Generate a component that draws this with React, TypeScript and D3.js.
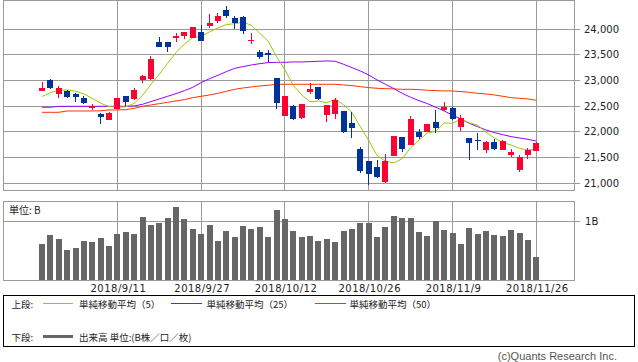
import React from "react";
import * as d3 from "d3";

// ---- data ----
const dates = [
  "2018/8/29", "2018/8/30", "2018/8/31", "2018/9/3", "2018/9/4", "2018/9/5", "2018/9/6", "2018/9/7", "2018/9/10", "2018/9/11",
  "2018/9/12", "2018/9/13", "2018/9/14", "2018/9/18", "2018/9/19", "2018/9/20", "2018/9/21", "2018/9/25", "2018/9/26", "2018/9/27",
  "2018/9/28", "2018/10/1", "2018/10/2", "2018/10/3", "2018/10/4", "2018/10/5", "2018/10/9", "2018/10/10", "2018/10/11", "2018/10/12",
  "2018/10/15", "2018/10/16", "2018/10/17", "2018/10/18", "2018/10/19", "2018/10/22", "2018/10/23", "2018/10/24", "2018/10/25", "2018/10/26",
  "2018/10/29", "2018/10/30", "2018/10/31", "2018/11/1", "2018/11/2", "2018/11/5", "2018/11/6", "2018/11/7", "2018/11/8", "2018/11/9",
  "2018/11/12", "2018/11/13", "2018/11/14", "2018/11/15", "2018/11/16", "2018/11/19", "2018/11/20", "2018/11/21", "2018/11/22", "2018/11/26",
];

const openP = [
  22805, 23013, 22734, 22805, 22740, 22669, 22461, 22351, 22234, 22448,
  22701, 22643, 23013, 23033, 23753, 23753, 23838, 23877, 23838, 23948,
  24072, 24169, 24377, 24221, 24240, 23785, 23559, 23533, 23052, 22318,
  22507, 22279, 22779, 22870, 22331, 22351, 22409, 22175, 21669, 21435,
  21318, 21032, 21532, 21903, 21740, 21994, 22000, 22195, 22429, 22474,
  22104, 21883, 21844, 21656, 21805, 21656, 21552, 21260, 21558, 21636,
];
const highP = [
  22981, 23032, 22896, 22810, 22753, 22701, 22552, 22377, 22390, 22665,
  22705, 22857, 23117, 23481, 23857, 23756, 23922, 23945, 24042, 24085,
  24299, 24312, 24455, 24260, 24260, 23922, 23598, 23598, 23055, 22705,
  22520, 22550, 22948, 22873, 22525, 22662, 22412, 22390, 21714, 21438,
  21448, 21571, 21925, 21906, 22312, 22059, 22159, 22429, 22585, 22494,
  22325, 21886, 21987, 21831, 21857, 21844, 21675, 21546, 21688, 21795,
];
const lowP = [
  22800, 22831, 22669, 22669, 22591, 22552, 22422, 22156, 22230, 22440,
  22507, 22624, 22961, 23020, 23650, 23565, 23760, 23805, 23835, 23780,
  24020, 24117, 24215, 24013, 23909, 23714, 23429, 23364, 22455, 22315,
  22234, 22260, 22740, 22630, 22195, 22253, 21987, 21890, 21195, 20968,
  21097, 21013, 21525, 21617, 21737, 21857, 21997, 21987, 22409, 22234,
  22026, 21455, 21649, 21597, 21649, 21643, 21519, 21227, 21467, 21633,
];
const closeP = [
  22857, 22857, 22851, 22688, 22688, 22572, 22507, 22299, 22377, 22662,
  22591, 22818, 23091, 23422, 23663, 23663, 23877, 23942, 24039, 23780,
  24124, 24260, 24266, 24117, 23974, 23792, 23468, 23494, 22572, 22701,
  22260, 22546, 22838, 22636, 22520, 22623, 22000, 22085, 21247, 21175,
  21130, 21435, 21922, 21675, 22253, 21896, 22156, 22071, 22487, 22253,
  22279, 21792, 21825, 21812, 21669, 21818, 21604, 21520, 21649, 21792,
];

// volume, unit: B (billion shares)
const volumeB = [
  0.613, 0.767, 0.698, 0.511, 0.545, 0.664, 0.647, 0.715, 0.579, 0.784,
  0.818, 0.784, 1.073, 0.937, 0.971, 1.056, 1.244, 1.039, 0.869, 0.784,
  0.937, 0.664, 0.835, 0.733, 0.920, 0.869, 0.903, 0.733, 1.193, 1.039,
  0.835, 0.733, 0.750, 0.664, 0.698, 0.647, 0.835, 0.869, 0.971, 0.971,
  0.733, 0.903, 1.090, 1.056, 1.056, 0.818, 0.750, 1.005, 0.852, 0.801,
  0.613, 0.886, 0.784, 0.835, 0.767, 0.750, 0.852, 0.801, 0.681, 0.392,
];

const ma5 = [
  22690, 22765, 22815, 22818, 22795, 22740, 22655, 22560, 22495, 22482,
  22490, 22556, 22712, 22925, 23125, 23340, 23548, 23715, 23838, 23862,
  23952, 24027, 24093, 24108, 24140, 24077, 23921, 23769, 23465, 23208,
  22906, 22722, 22590, 22603, 22570, 22639, 22531, 22381, 22103, 21833,
  21540, 21430, 21396, 21479, 21691, 21841, 21979, 22012, 22172, 22173,
  22247, 22180, 22132, 21996, 21882, 21792, 21747, 21679, 21647, 21674,
];
const ma25 = [
  22481, 22481, 22500, 22500, 22500, 22500, 22500, 22500, 22500, 22500,
  22500, 22507, 22539, 22591, 22643, 22695, 22747, 22805, 22870, 22961,
  23039, 23104, 23175, 23240, 23273, 23305, 23331, 23351, 23357, 23357,
  23364, 23364, 23370, 23377, 23383, 23377, 23318, 23253, 23188, 23110,
  23013, 22929, 22844, 22753, 22675, 22610, 22552, 22481, 22409, 22331,
  22253, 22169, 22104, 22039, 21987, 21948, 21909, 21883, 21857, 21822,
];
const ma50 = [
  22383, 22383, 22383, 22409, 22409, 22409, 22409, 22412, 22429, 22429,
  22435, 22461, 22500, 22526, 22552, 22578, 22604, 22630, 22669, 22695,
  22721, 22753, 22792, 22831, 22857, 22877, 22896, 22909, 22929, 22929,
  22929, 22929, 22929, 22929, 22929, 22929, 22916, 22903, 22883, 22864,
  22851, 22844, 22838, 22831, 22831, 22825, 22812, 22805, 22799, 22799,
  22786, 22773, 22753, 22740, 22721, 22695, 22669, 22656, 22643, 22617,
];

const priceTicks = [21000, 21500, 22000, 22500, 23000, 23500, 24000];
const volumeTicks = [1];
const dateTicks = ["2018/9/11", "2018/9/27", "2018/10/12", "2018/10/26", "2018/11/9", "2018/11/26"];

const UP = "#ff0033";
const DOWN = "#003399";
const GRID = "#9a9a9a";
const C_MA5 = "#99cc00";
const C_MA25 = "#9900ff";
const C_MA50 = "#ff3300";
const VOL = "#666666";
const NUMFONT = "'DejaVu Sans', sans-serif";
const JPFONT = "'Noto Sans CJK JP', sans-serif";

const px = (v: number) => Math.floor(v) + 0.5;

export default function App() {
  const W = 638;
  const H = 362;
  const plotL = 3.5;
  const plotR = 574.5;
  const mainTop = 0.5;
  const mainBottom = 190.5;
  const volTop = 201.5;
  const volBottom = 280.5;

  const x = d3.scaleLinear().domain([0, dates.length - 1]).range([42, 536.3]);
  const y = d3.scaleLinear().domain([21000, 24000]).range([183.3, 29.3]);
  const yv = d3.scaleLinear().domain([0, 1]).range([280.5, 221.3]);

  const maLine = d3
    .line<number>()
    .x((_, i) => x(i))
    .y((d) => y(d));

  const bodyW = 6;
  const tickIdx = dateTicks.map((t) => dates.indexOf(t));

  return (
    <svg
      width={W}
      height={H}
      viewBox={`0 0 ${W} ${H}`}
      style={{ position: "absolute", left: 0, top: 0, display: "block", background: "#fff" }}
    >
      <rect x={0} y={0} width={W} height={H} fill="#fff" />

      {/* ---------- main price panel ---------- */}
      <g shapeRendering="crispEdges">
        {priceTicks.map((t) => (
          <g key={t}>
            <line x1={plotL} x2={plotR} y1={px(y(t))} y2={px(y(t))} stroke={GRID} />
            <line x1={plotR} x2={580} y1={px(y(t))} y2={px(y(t))} stroke={GRID} />
          </g>
        ))}
        {tickIdx.map((i) => (
          <line key={i} x1={px(x(i))} x2={px(x(i))} y1={mainTop} y2={mainBottom} stroke={GRID} />
        ))}
        <rect x={plotL} y={mainTop} width={plotR - plotL} height={mainBottom - mainTop} fill="none" stroke={GRID} />
      </g>

      {priceTicks.map((t) => (
        <text
          key={t}
          x={584}
          y={y(t)}
          dominantBaseline="central"
          fontFamily={NUMFONT}
          fontSize={10}
          fill="#222"
        >
          {d3.format(",")(t)}
        </text>
      ))}

      {/* moving averages */}
      <path d={maLine(ma50) || ""} fill="none" stroke={C_MA50} strokeWidth={1} />
      <path d={maLine(ma25) || ""} fill="none" stroke={C_MA25} strokeWidth={1} />
      <path d={maLine(ma5) || ""} fill="none" stroke={C_MA5} strokeWidth={1} />

      {/* candles */}
      <g shapeRendering="crispEdges">
        {dates.map((d, i) => {
          const o = openP[i];
          const c = closeP[i];
          const col = c >= o ? UP : DOWN;
          const top = y(Math.max(o, c));
          const bot = y(Math.min(o, c));
          const cx = x(i);
          return (
            <g key={d}>
              <line x1={px(cx)} x2={px(cx)} y1={y(highP[i])} y2={y(lowP[i])} stroke={col} />
              <rect
                x={Math.round(cx - bodyW / 2)}
                y={top}
                width={bodyW}
                height={Math.max(1, bot - top)}
                fill={col}
              />
            </g>
          );
        })}
      </g>

      {/* ---------- volume panel ---------- */}
      <g shapeRendering="crispEdges">
        {volumeTicks.map((t) => (
          <g key={t}>
            <line x1={plotL} x2={plotR} y1={px(yv(t))} y2={px(yv(t))} stroke={GRID} />
            <line x1={plotR} x2={580} y1={px(yv(t))} y2={px(yv(t))} stroke={GRID} />
          </g>
        ))}
        {tickIdx.map((i) => (
          <line key={i} x1={px(x(i))} x2={px(x(i))} y1={volTop} y2={volBottom} stroke={GRID} />
        ))}
        {dates.map((d, i) => (
          <rect
            key={d}
            x={Math.round(x(i) - bodyW / 2)}
            y={yv(volumeB[i])}
            width={bodyW}
            height={yv(0) - yv(volumeB[i])}
            fill={VOL}
          />
        ))}
        <rect x={plotL} y={volTop} width={plotR - plotL} height={volBottom - volTop} fill="none" stroke={GRID} />
      </g>
      {volumeTicks.map((t) => (
        <text key={t} x={585} y={yv(t)} dominantBaseline="central" fontFamily={NUMFONT} fontSize={10} fill="#222">
          {t}B
        </text>
      ))}
      <text x={9} y={209.5} dominantBaseline="central" fontFamily={JPFONT} fontSize={10} fill="#222">
        単位: B
      </text>

      {/* date labels */}
      {tickIdx.map((i, k) => (
        <text
          key={i}
          x={x(i) + 1}
          y={292}
          textAnchor="middle"
          fontFamily={NUMFONT}
          fontSize={10}
          letterSpacing={0.5}
          fill="#222"
        >
          {dateTicks[k]}
        </text>
      ))}

      {/* ---------- legend ---------- */}
      <rect x={3.5} y={295.5} width={631} height={51} fill="none" stroke="#000" shapeRendering="crispEdges" />
      <g fontFamily={JPFONT} fontSize={9.5} fill="#222">
        <text x={11.5} y={303.5} dominantBaseline="central">上段:</text>
        <line x1={43} x2={73} y1={303.5} y2={303.5} stroke={C_MA5} shapeRendering="crispEdges" />
        <text x={79} y={303.5} dominantBaseline="central">単純移動平均（5）</text>
        <line x1={171} x2={202} y1={303.5} y2={303.5} stroke={C_MA25} shapeRendering="crispEdges" />
        <text x={206.5} y={303.5} dominantBaseline="central">単純移動平均（25）</text>
        <line x1={315} x2={346} y1={303.5} y2={303.5} stroke={C_MA50} shapeRendering="crispEdges" />
        <text x={349.5} y={303.5} dominantBaseline="central">単純移動平均（50）</text>

        <text x={11.5} y={336.5} dominantBaseline="central">下段:</text>
        <line x1={43} x2={73} y1={336} y2={336} stroke={VOL} strokeWidth={3} shapeRendering="crispEdges" />
        <text x={79} y={336.5} dominantBaseline="central">出来高 単位:(B株／口／枚)</text>
      </g>

      <text
        x={617}
        y={360}
        textAnchor="end"
        fontFamily="'Liberation Sans', Arial, sans-serif"
        fontSize={11}
        fill="#555"
      >
        (c)Quants Research Inc.
      </text>
    </svg>
  );
}
